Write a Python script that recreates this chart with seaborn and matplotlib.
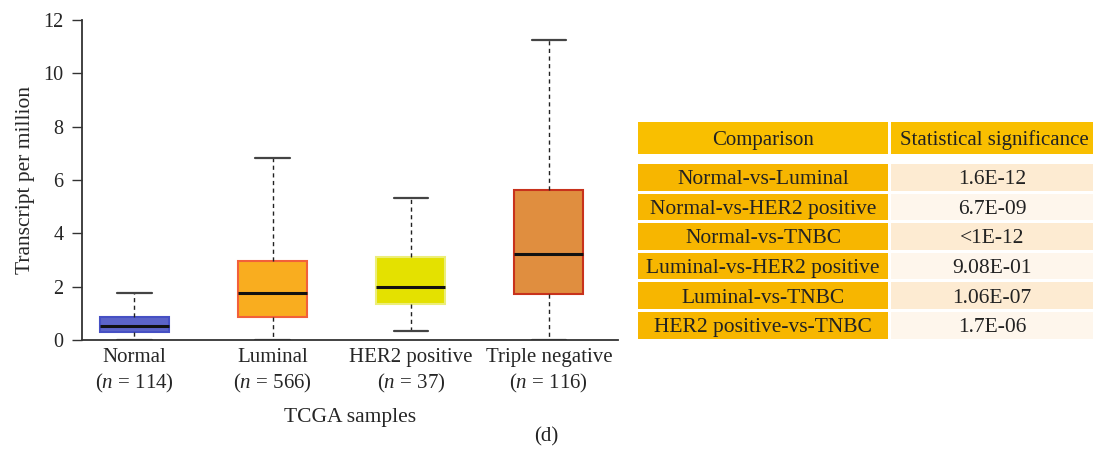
import numpy as np
import pandas as pd
import matplotlib
matplotlib.use("Agg")
import matplotlib.pyplot as plt
import seaborn as sns
from matplotlib.patches import Rectangle

# ---- data ----
categories = ["Normal", "Luminal", "HER2 positive", "Triple negative"]
sample_sizes = [114, 566, 37, 116]
# five-number summaries: min, Q1, median, Q3, max
normal_stats = [0.0, 0.29, 0.54, 0.85, 1.75]
luminal_stats = [0.0, 0.875, 1.75, 2.98, 6.84]
her2_stats = [0.34, 1.35, 1.99, 3.125, 5.34]
tnbc_stats = [0.0, 1.725, 3.225, 5.625, 11.26]

comparisons = ["Normal-vs-Luminal", "Normal-vs-HER2 positive", "Normal-vs-TNBC",
               "Luminal-vs-HER2 positive", "Luminal-vs-TNBC", "HER2 positive-vs-TNBC"]
significance = ["1.6E-12", "6.7E-09", "<1E-12", "9.08E-01", "1.06E-07", "1.7E-06"]

fill_colors = ["#5c64c8", "#f9ad1f", "#e4e100", "#e08e3f"]
edge_colors = ["#4650c4", "#f2603a", "#ecee78", "#c8321c"]

# ---- build frame ----
rows = []
for cat, st in zip(categories, [normal_stats, luminal_stats, her2_stats, tnbc_stats]):
    for v in st:
        rows.append({"group": cat, "tpm": v})
df = pd.DataFrame(rows)

sns.set_theme(style="ticks")
plt.rcParams["font.family"] = ["Liberation Serif", "DejaVu Serif"]
plt.rcParams["mathtext.fontset"] = "custom"
plt.rcParams["mathtext.it"] = "Liberation Serif:italic"
plt.rcParams["mathtext.rm"] = "Liberation Serif"

W, H = 1093, 462
fig = plt.figure(figsize=(W / 100, H / 100), dpi=100)
ax = fig.add_axes([82 / W, 1 - 340 / H, 536 / W, 320 / H])

sns.boxplot(data=df, x="group", y="tpm", hue="group", order=categories,
            hue_order=categories, palette=fill_colors, legend=False, saturation=1,
            whis=(0, 100), width=0.5, ax=ax, linewidth=1.2, dodge=False,
            whiskerprops=dict(linestyle=(0, (3, 2.5)), color="#222222", linewidth=1.0),
            capprops=dict(color="#444444", linewidth=1.6),
            medianprops=dict(color="#111111", linewidth=2.2),
            showfliers=False)

for patch, ec in zip(ax.patches, edge_colors):
    patch.set_edgecolor(ec)
    patch.set_linewidth(1.5)

ax.set_xlim(-0.38, 3.5)
ax.set_ylim(0, 12)
ax.set_yticks(np.arange(0, 13, 2))
ax.set_xticks(range(len(categories)))
ax.set_xticklabels([f"{c}\n($\\mathit{{n}}$ = {n})" for c, n in zip(categories, sample_sizes)],
                   fontsize=15, linespacing=1.3)
ax.tick_params(axis="x", length=0, pad=6)
ax.tick_params(axis="y", labelsize=14.5, length=7, width=1.0, color="#333333", pad=6.5)
ax.set_xlabel("TCGA samples", fontsize=15.5, labelpad=9)
ax.set_ylabel("Transcript per million", fontsize=15.5, labelpad=6)
for s in ["top", "right"]:
    ax.spines[s].set_visible(False)
for s in ["left", "bottom"]:
    ax.spines[s].set_color("#333333")
    ax.spines[s].set_linewidth(1.3)

# ---- table ----
tax = fig.add_axes([0, 0, 1, 1])
tax.set_xlim(0, W)
tax.set_ylim(H, 0)
tax.axis("off")
tax.patch.set_alpha(0)

c1x0, c1x1 = 638, 888
c2x0, c2x1 = 891, 1093
gold_head = "#f9bf00"
gold = "#f7b600"
cream = ["#fdebd2", "#fef6ec"]
tfs = 15.5

tax.add_patch(Rectangle((c1x0, 122), c1x1 - c1x0, 32, color=gold_head, lw=0))
tax.add_patch(Rectangle((c2x0, 122), c2x1 - c2x0, 32, color=gold_head, lw=0))
tax.text((c1x0 + c1x1) / 2, 138, "Comparison", ha="center", va="center_baseline", fontsize=15, color="#222222")
tax.text((c2x0 + c2x1) / 2 + 2, 138, "Statistical significance", ha="center", va="center_baseline", fontsize=15, color="#222222")

y0 = 164
pitch = 29.6
rh = 26.5
for i, (comp, sig) in enumerate(zip(comparisons, significance)):
    y = y0 + i * pitch
    tax.add_patch(Rectangle((c1x0, y), c1x1 - c1x0, rh, color=gold, lw=0))
    tax.add_patch(Rectangle((c2x0, y), c2x1 - c2x0, rh, color=cream[i % 2], lw=0))
    tax.text((c1x0 + c1x1) / 2, y + rh / 2, comp, ha="center", va="center_baseline", fontsize=tfs, color="#222222")
    tax.text((c2x0 + c2x1) / 2, y + rh / 2, sig, ha="center", va="center_baseline", fontsize=tfs, color="#222222")

tax.text(546, 437, "(d)", ha="center", va="center", fontsize=15, color="#222222")

fig.savefig("out.png", dpi=100)
